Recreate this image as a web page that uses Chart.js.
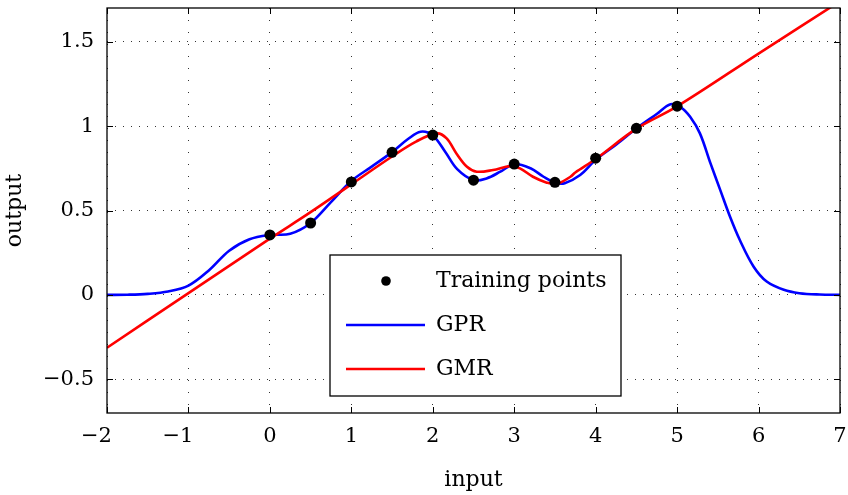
<!DOCTYPE html>
<html>
<head>
<meta charset="utf-8">
<script src="https://cdn.jsdelivr.net/npm/chart.js@4.4.1/dist/chart.umd.min.js"></script>
<style>
  html, body { margin: 0; padding: 0; background: #fff; }
  #wrap { width: 848px; height: 495px; }
</style>
</head>
<body>
<div id="wrap"><canvas id="gmrChart" width="848" height="495"></canvas></div>
<script>
// training samples
const trainX = [0, 0.5, 1, 1.5, 2, 2.5, 3, 3.5, 4, 4.5, 5];
const trainY = [0.355, 0.426, 0.669, 0.845, 0.947, 0.68, 0.775, 0.667, 0.81, 0.987, 1.118];

// GPR prediction
const gprX = [-2, -1.75, -1.5, -1.25, -1, -0.75, -0.5, -0.25, 0, 0.25, 0.5, 0.75, 1, 1.25, 1.5, 1.7, 1.85,
  2, 2.15, 2.3, 2.5, 2.66, 2.83, 3, 3.2, 3.36, 3.5, 3.62, 3.81, 4, 4.25, 4.5, 4.75, 4.92, 5.05, 5.16,
  5.28, 5.41, 5.53, 5.65, 5.77, 5.94, 6.1, 6.31, 6.5, 6.75, 7];
const gprY = [0, 0.001, 0.006, 0.02, 0.055, 0.145, 0.262, 0.33, 0.355, 0.362, 0.426, 0.55, 0.675, 0.76, 0.846, 0.925, 0.967,
  0.945, 0.85, 0.745, 0.68, 0.69, 0.73, 0.775, 0.75, 0.70, 0.665, 0.662, 0.71, 0.80, 0.89, 0.986, 1.072, 1.13, 1.11, 1.055,
  0.957, 0.779, 0.621, 0.463, 0.325, 0.167, 0.079, 0.03, 0.01, 0.002, 0];

// GMR prediction
const gmrX = [-2, -1, 0, 0.5, 1, 1.5, 1.8, 2.05, 2.17, 2.29, 2.42, 2.54, 2.74, 2.95, 3.07, 3.23, 3.4, 3.52,
  3.69, 3.75, 4, 4.5, 5, 6, 7];
const gmrY = [-0.313, 0.01, 0.333, 0.49, 0.655, 0.82, 0.91, 0.957, 0.927, 0.838, 0.759, 0.73, 0.74, 0.763, 0.75, 0.70, 0.665, 0.657,
  0.70, 0.725, 0.805, 0.985, 1.117, 1.43, 1.74];

const xTicks = [-2, -1, 0, 1, 2, 3, 4, 5, 6, 7];
const yTicks = [-0.5, 0, 0.5, 1, 1.5];

const serif = '"DejaVu Serif", "Liberation Serif", serif';
const toPoints = (xs, ys) => xs.map((x, i) => ({ x: x, y: ys[i] }));
const fmt = v => String(v).replace('-', '\u2212');

// box around the plot with inward tick marks on all four sides
const framePlugin = {
  id: 'frame',
  afterDatasetsDraw(chart) {
    const { ctx, chartArea: a, scales: { x, y } } = chart;
    const len = 6;
    ctx.save();
    ctx.strokeStyle = '#000';
    ctx.lineWidth = 1;
    ctx.beginPath();
    xTicks.forEach(v => {
      const px = Math.round(x.getPixelForValue(v)) + 0.5;
      ctx.moveTo(px, a.bottom); ctx.lineTo(px, a.bottom - len);
      ctx.moveTo(px, a.top); ctx.lineTo(px, a.top + len);
    });
    yTicks.forEach(v => {
      const py = Math.round(y.getPixelForValue(v)) + 0.5;
      ctx.moveTo(a.left, py); ctx.lineTo(a.left + len, py);
      ctx.moveTo(a.right, py); ctx.lineTo(a.right - len, py);
    });
    ctx.stroke();
    ctx.lineWidth = 1.3;
    ctx.strokeRect(a.left, a.top, a.right - a.left, a.bottom - a.top);
    ctx.restore();
  }
};

// framed legend inside the plot
const legendBox = { left: 330, top: 255, width: 291, height: 141 };
const legendPlugin = {
  id: 'boxLegend',
  afterDraw(chart) {
    const { ctx } = chart;
    const b = legendBox;
    ctx.save();
    ctx.fillStyle = '#fff';
    ctx.fillRect(b.left, b.top, b.width, b.height);
    ctx.strokeStyle = '#000';
    ctx.lineWidth = 1.3;
    ctx.strokeRect(b.left, b.top, b.width, b.height);
    ctx.font = '22px ' + serif;
    ctx.textBaseline = 'middle';
    chart.data.datasets.forEach((ds, i) => {
      const cy = b.top + 26 + i * 44;
      if (ds.showLine) {
        ctx.strokeStyle = ds.borderColor;
        ctx.lineWidth = ds.borderWidth;
        ctx.beginPath();
        ctx.moveTo(b.left + 16, cy);
        ctx.lineTo(b.left + 95, cy);
        ctx.stroke();
      } else {
        ctx.fillStyle = ds.backgroundColor;
        ctx.beginPath();
        ctx.arc(b.left + 56, cy, 4.8, 0, Math.PI * 2);
        ctx.fill();
      }
      ctx.fillStyle = '#000';
      ctx.fillText(ds.label, b.left + 106, cy);
    });
    ctx.restore();
  }
};

const ctx = document.getElementById('gmrChart').getContext('2d');
new Chart(ctx, {
  type: 'scatter',
  data: {
    datasets: [
      {
        label: 'Training points',
        data: toPoints(trainX, trainY),
        backgroundColor: '#000',
        borderWidth: 0,
        pointRadius: 5.5,
        showLine: false,
        order: 0
      },
      {
        label: 'GPR',
        data: toPoints(gprX, gprY),
        borderColor: '#0000ff',
        borderWidth: 2.6,
        pointRadius: 0,
        showLine: true,
        tension: 0.35,
        clip: 0,
        order: 2
      },
      {
        label: 'GMR',
        data: toPoints(gmrX, gmrY),
        borderColor: '#ff0000',
        borderWidth: 2.6,
        pointRadius: 0,
        showLine: true,
        tension: 0.35,
        clip: 0,
        order: 1
      }
    ]
  },
  options: {
    responsive: false,
    animation: false,
    events: [],
    layout: { padding: { top: 8, right: 8, left: 0, bottom: 0 } },
    plugins: {
      legend: { display: false },
      tooltip: { enabled: false }
    },
    scales: {
      x: {
        type: 'linear',
        min: -2,
        max: 7,
        afterBuildTicks: s => { s.ticks = xTicks.map(v => ({ value: v })); },
        afterFit: s => { s.height = 82; s.paddingLeft = 0; s.paddingRight = 0; },
        grid: { color: 'rgba(0,0,0,0.8)', lineWidth: 1, drawTicks: false },
        border: { display: false, dash: [1, 11] },
        ticks: {
          color: '#000',
          font: { family: serif, size: 21 },
          padding: 11,
          maxRotation: 0,
          // keep the digit centred under the tick when a minus sign is present
          callback: v => v < 0 ? fmt(v) + '\u2003' : fmt(v)
        },
        title: {
          display: true,
          text: 'input',
          color: '#000',
          font: { family: serif, size: 22 },
          padding: { top: 2, bottom: 2 }
        }
      },
      y: {
        type: 'linear',
        min: -0.7,
        max: 1.7,
        afterBuildTicks: s => { s.ticks = yTicks.map(v => ({ value: v })); },
        afterFit: s => { s.width = 107; s.paddingTop = 0; s.paddingBottom = 0; },
        grid: { color: 'rgba(0,0,0,0.8)', lineWidth: 1, drawTicks: false },
        border: { display: false, dash: [1, 7] },
        ticks: {
          color: '#000',
          font: { family: serif, size: 21 },
          padding: 13,
          callback: v => fmt(v)
        },
        title: {
          display: true,
          text: 'output',
          color: '#000',
          font: { family: serif, size: 22 },
          padding: { top: 2, bottom: 2 }
        }
      }
    }
  },
  plugins: [framePlugin, legendPlugin]
});
</script>
</body>
</html>
